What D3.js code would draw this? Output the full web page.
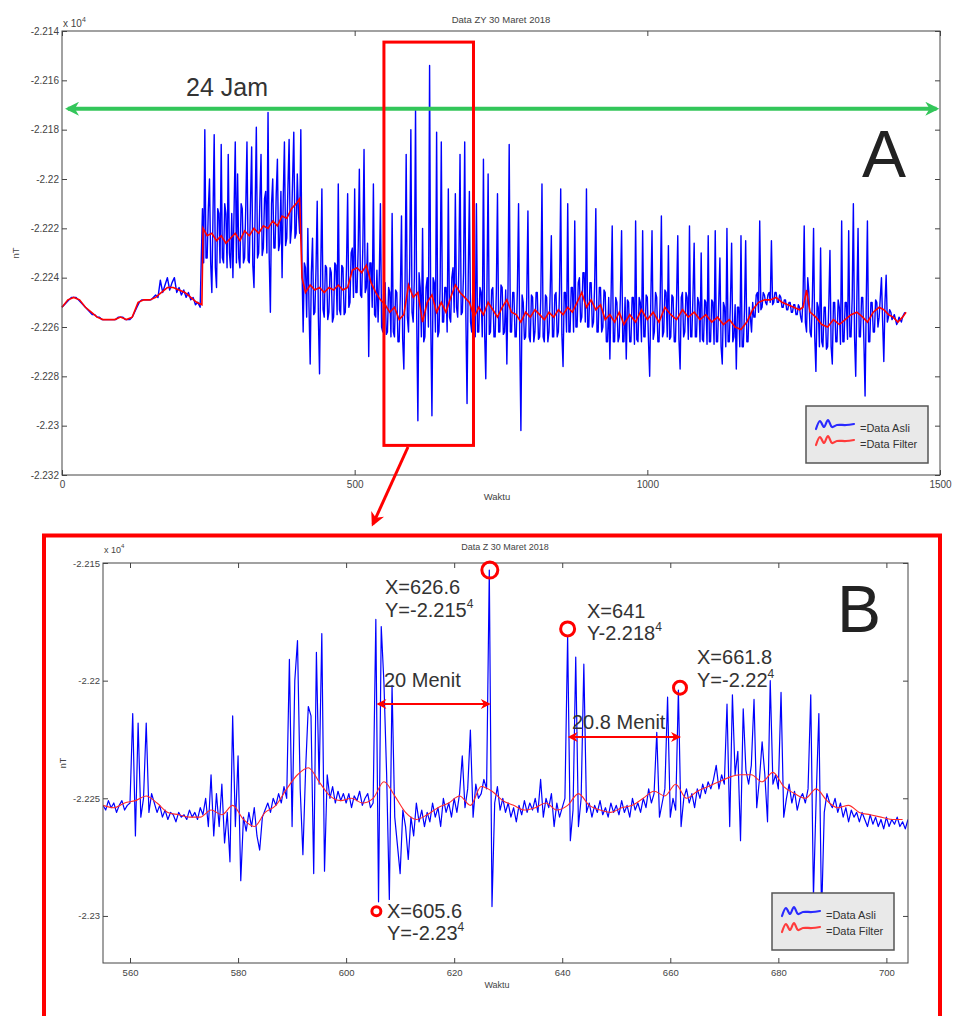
<!DOCTYPE html>
<html>
<head>
<meta charset="utf-8">
<script src="https://cdn.jsdelivr.net/npm/d3@7"></script>
<style>
body { margin: 0; background: #fff; }
svg { display: block; font-family: "Liberation Sans", Arial, sans-serif; }
</style>
</head>
<body>
<div id="chart"></div>
<script>
// ---- data panel A ----
// quiet part: one value every 4 minutes from minute 0
var langkahHalusA = 4;
var asliHalusA = [
  -22252,-22251,-22250,-22249,-22248,-22248,-22248,-22249,-22250,-22251,-22252,-22253,-22254,-22255,-22255,
  -22256,-22256,-22257,-22257,-22257,-22257,-22257,-22257,-22257,-22256,-22256,-22256,-22257,-22257,-22257,
  -22256,-22254,-22252,-22250,-22249,-22249,-22249,-22249,-22249,-22248,-22247,-22248,-22241,-22246,-22243,
  -22240,-22245,-22242,-22240,-22246,-22244,-22247,-22245,-22248,-22246,-22249,-22248,-22251,-22250,-22252
];
// noisy part: one value every 2 minutes from minute 240
var awalBisingA = 240, langkahBisingA = 2;
var asliBisingA = [
  -22212,-22234,-22180,-22232,-22232,-22212,-22200,-22234,-22246,-22214,-22182,-22236,-22244,-22212,-22214,-22234,-22186,-22232,-22234,-22210,-22214,-22236,-22190,-22230,-22236,-22214,-22240,-22212,-22185,-22234,
  -22198,-22232,-22236,-22210,-22212,-22234,-22232,-22211,-22185,-22233,-22234,-22210,-22187,-22235,-22244,-22212,-22179,-22232,-22230,-22209,-22190,-22231,-22228,-22208,-22205,-22230,-22173,-22232,-22254,-22210,
  -22200,-22228,-22228,-22206,-22192,-22229,-22226,-22205,-22240,-22207,-22185,-22227,-22224,-22203,-22184,-22226,-22220,-22200,-22181,-22224,-22222,-22198,-22214,-22222,-22180,-22236,-22262,-22234,-22236,-22256,
  -22220,-22252,-22275,-22238,-22224,-22255,-22254,-22236,-22209,-22256,-22279,-22237,-22204,-22253,-22256,-22235,-22236,-22257,-22254,-22236,-22238,-22258,-22256,-22234,-22235,-22255,-22202,-22253,-22255,-22235,
  -22236,-22255,-22254,-22236,-22206,-22252,-22250,-22230,-22228,-22248,-22204,-22246,-22246,-22228,-22196,-22247,-22248,-22227,-22188,-22246,-22244,-22226,-22272,-22234,-22234,-22252,-22202,-22255,-22256,-22237,
  -22258,-22240,-22210,-22260,-22262,-22242,-22242,-22263,-22262,-22244,-22246,-22264,-22214,-22262,-22264,-22245,-22246,-22266,-22266,-22247,-22215,-22265,-22277,-22244,-22190,-22256,-22262,-22236,-22180,-22254,
  -22258,-22240,-22172,-22256,-22298,-22238,-22244,-22264,-22220,-22266,-22264,-22244,-22240,-22260,-22154,-22258,-22296,-22240,-22242,-22262,-22181,-22264,-22262,-22244,-22185,-22258,-22258,-22244,-22244,-22262,
  -22204,-22256,-22258,-22240,-22236,-22254,-22206,-22252,-22256,-22236,-22190,-22255,-22254,-22238,-22185,-22256,-22291,-22240,-22205,-22258,-22262,-22242,-22244,-22264,-22210,-22262,-22262,-22244,-22246,-22264,
  -22192,-22262,-22281,-22244,-22198,-22263,-22262,-22245,-22244,-22264,-22264,-22246,-22206,-22262,-22262,-22243,-22244,-22263,-22262,-22245,-22275,-22244,-22186,-22262,-22262,-22246,-22246,-22264,-22264,-22245,
  -22210,-22264,-22302,-22247,-22250,-22265,-22264,-22248,-22213,-22264,-22266,-22247,-22248,-22266,-22262,-22246,-22246,-22265,-22264,-22248,-22202,-22264,-22266,-22247,-22248,-22266,-22262,-22246,-22223,-22264,
  -22264,-22247,-22246,-22264,-22262,-22245,-22204,-22263,-22276,-22246,-22246,-22262,-22210,-22262,-22262,-22244,-22244,-22262,-22217,-22260,-22260,-22242,-22240,-22258,-22256,-22238,-22238,-22258,-22204,-22260,
  -22260,-22242,-22242,-22260,-22258,-22243,-22212,-22262,-22262,-22244,-22244,-22262,-22260,-22245,-22246,-22266,-22266,-22248,-22273,-22248,-22219,-22266,-22266,-22248,-22250,-22266,-22264,-22247,-22221,-22266,
  -22266,-22248,-22273,-22249,-22250,-22266,-22266,-22248,-22248,-22267,-22217,-22265,-22266,-22248,-22250,-22266,-22221,-22264,-22264,-22247,-22248,-22266,-22280,-22248,-22221,-22265,-22262,-22246,-22248,-22266,
  -22266,-22248,-22215,-22264,-22262,-22245,-22246,-22264,-22227,-22265,-22264,-22247,-22248,-22266,-22266,-22248,-22223,-22265,-22277,-22248,-22246,-22264,-22262,-22246,-22248,-22265,-22219,-22264,-22264,-22247,
  -22226,-22264,-22264,-22248,-22250,-22266,-22230,-22265,-22266,-22249,-22250,-22267,-22223,-22266,-22266,-22249,-22250,-22267,-22221,-22266,-22266,-22250,-22232,-22268,-22275,-22250,-22252,-22268,-22220,-22266,
  -22266,-22250,-22226,-22266,-22264,-22251,-22277,-22252,-22252,-22268,-22223,-22268,-22268,-22253,-22225,-22266,-22266,-22252,-22256,-22262,-22250,-22256,-22256,-22247,-22246,-22254,-22217,-22253,-22252,-22246,
  -22247,-22250,-22251,-22247,-22246,-22250,-22225,-22251,-22250,-22246,-22246,-22250,-22250,-22247,-22248,-22252,-22252,-22249,-22249,-22253,-22253,-22250,-22250,-22254,-22254,-22251,-22251,-22255,-22255,-22251,
  -22252,-22256,-22258,-22248,-22219,-22258,-22262,-22240,-22246,-22262,-22264,-22248,-22220,-22264,-22278,-22250,-22252,-22268,-22228,-22266,-22268,-22252,-22252,-22269,-22268,-22251,-22229,-22268,-22275,-22250,
  -22250,-22266,-22266,-22249,-22252,-22267,-22217,-22266,-22266,-22250,-22250,-22265,-22221,-22264,-22264,-22248,-22210,-22264,-22280,-22248,-22220,-22264,-22264,-22248,-22248,-22266,-22288,-22250,-22217,-22266,
  -22266,-22250,-22250,-22262,-22262,-22249,-22250,-22260,-22256,-22248,-22240,-22258,-22274,-22250,-22239,-22258,-22256,-22253,-22254,-22257,-22256,-22255,-22257,-22259,-22258,-22256,-22257,-22258,-22256,-22255,
  -22254
];
// filtered line A: [minute, nT]
var filterA = [
  [0,-22252],[10,-22249],[20,-22248],[30,-22249],[40,-22252],[50,-22254],[60,-22256],[70,-22257],[80,-22257],
  [90,-22257],[100,-22256],[110,-22257],[120,-22256],[130,-22250],[140,-22249],[150,-22249],[160,-22248],
  [170,-22246],[180,-22244],[190,-22244],[200,-22245],[210,-22246],[220,-22248],[230,-22250],[239,-22251],
  [241,-22220],[248,-22223],[256,-22222],[264,-22225],[272,-22223],[280,-22226],[288,-22224],[296,-22222],
  [304,-22225],[312,-22221],[320,-22223],[328,-22220],[336,-22222],[344,-22219],[352,-22220],[360,-22217],
  [368,-22219],[376,-22215],[384,-22216],[392,-22212],[400,-22210],[406,-22208],
  [410,-22240],[416,-22246],[424,-22243],[432,-22245],[440,-22244],[448,-22246],[456,-22244],[464,-22245],
  [472,-22243],[480,-22245],[488,-22244],[496,-22237],[504,-22236],[512,-22238],[520,-22235],[528,-22242],
  [536,-22246],[544,-22249],[552,-22251],[560,-22254],[568,-22252],[576,-22257],[584,-22255],[592,-22243],
  [600,-22248],[608,-22246],[616,-22258],[624,-22250],[632,-22247],[640,-22254],[648,-22250],[656,-22254],
  [664,-22248],[672,-22243],[680,-22246],[688,-22248],[696,-22250],[704,-22256],[712,-22252],[720,-22255],
  [728,-22250],[736,-22253],[744,-22256],[752,-22252],[760,-22249],[768,-22254],[776,-22255],[784,-22258],
  [792,-22254],[800,-22256],[808,-22253],[816,-22255],[824,-22257],[832,-22254],[840,-22256],[848,-22253],
  [856,-22255],[864,-22252],[872,-22254],[880,-22250],[888,-22246],[896,-22252],[904,-22249],[912,-22253],
  [920,-22251],[928,-22257],[936,-22255],[944,-22258],[952,-22254],[960,-22259],[970,-22255],[980,-22258],
  [990,-22253],[1000,-22257],[1010,-22254],[1020,-22258],[1030,-22252],[1040,-22255],[1050,-22257],
  [1060,-22253],[1070,-22256],[1080,-22254],[1090,-22257],[1100,-22255],[1110,-22258],[1120,-22256],
  [1130,-22259],[1140,-22257],[1150,-22260],[1160,-22261],[1170,-22258],[1180,-22253],[1190,-22250],
  [1200,-22249],[1210,-22249],[1220,-22248],[1230,-22250],[1240,-22251],[1250,-22252],[1260,-22253],
  [1266,-22252],[1272,-22245],[1278,-22254],[1288,-22256],[1298,-22259],[1308,-22260],[1318,-22257],
  [1328,-22259],[1338,-22257],[1348,-22255],[1358,-22254],[1368,-22256],[1376,-22258],[1386,-22254],
  [1396,-22252],[1404,-22253],[1412,-22255],[1420,-22256],[1428,-22258],[1436,-22256],[1442,-22254]
];
var ticksAX = [0, 500, 1000, 1500];
var ticksAY = [-22140,-22160,-22180,-22200,-22220,-22240,-22260,-22280,-22300,-22320];

// ---- data panel B (nT, one value every 0.5 minute from 555) ----
var awalB = 555, langkahB = 0.5;
var asliB = [
  -22253,-22255,-22251,-22254,-22252,-22256,-22253,-22251,-22255,-22253,
  -22252,-22214,-22266,-22218,-22258,-22250,-22218,-22256,-22248,-22252,
  -22256,-22253,-22258,-22255,-22259,-22256,-22257,-22260,-22256,-22258,
  -22257,-22259,-22255,-22258,-22256,-22259,-22254,-22257,-22250,-22262,
  -22240,-22266,-22248,-22262,-22244,-22269,-22256,-22277,-22215,-22262,
  -22232,-22285,-22258,-22264,-22256,-22262,-22254,-22266,-22272,-22258,
  -22255,-22252,-22256,-22250,-22253,-22248,-22252,-22245,-22250,-22191,
  -22262,-22200,-22183,-22246,-22274,-22238,-22211,-22215,-22282,-22188,
  -22244,-22180,-22281,-22240,-22250,-22245,-22252,-22247,-22251,-22248,
  -22252,-22248,-22254,-22249,-22251,-22247,-22253,-22250,-22248,-22254,
  -22252,-22174,-22294,-22177,-22201,-22240,-22293,-22202,-22258,-22270,
  -22282,-22255,-22262,-22276,-22258,-22266,-22252,-22260,-22255,-22262,
  -22256,-22260,-22252,-22258,-22254,-22262,-22250,-22256,-22252,-22258,
  -22250,-22256,-22248,-22232,-22254,-22246,-22221,-22258,-22244,-22250,
  -22248,-22242,-22246,-22153,-22296,-22252,-22245,-22255,-22250,-22256,
  -22252,-22258,-22254,-22260,-22253,-22257,-22251,-22256,-22252,-22255,
  -22250,-22256,-22242,-22258,-22250,-22254,-22248,-22262,-22252,-22258,
  -22254,-22250,-22181,-22268,-22255,-22190,-22262,-22250,-22193,-22256,
  -22252,-22258,-22253,-22256,-22251,-22257,-22254,-22258,-22252,-22256,
  -22253,-22257,-22251,-22256,-22253,-22258,-22250,-22255,-22252,-22256,
  -22250,-22254,-22246,-22252,-22248,-22222,-22258,-22252,-22246,-22207,
  -22258,-22250,-22255,-22204,-22262,-22250,-22246,-22252,-22248,-22254,
  -22246,-22250,-22244,-22248,-22243,-22246,-22242,-22236,-22246,-22240,
  -22244,-22210,-22262,-22206,-22240,-22230,-22268,-22212,-22238,-22244,
  -22236,-22208,-22254,-22242,-22226,-22240,-22260,-22200,-22244,-22240,
  -22246,-22205,-22258,-22250,-22244,-22252,-22247,-22255,-22250,-22248,
  -22252,-22246,-22206,-22292,-22250,-22214,-22300,-22256,-22248,-22252,
  -22254,-22250,-22256,-22252,-22258,-22254,-22260,-22255,-22258,-22256,
  -22260,-22256,-22259,-22262,-22257,-22261,-22258,-22262,-22259,-22263,
  -22258,-22262,-22259,-22261,-22258,-22262,-22260,-22263,-22259
];
// filtered line B, one value every 2 minutes from 555
var langkahFilterB = 2;
var filterB = [
  -22253,-22254,-22252,-22251,-22249,-22252,-22256,-22257,-22258,-22258,-22255,-22257,-22253,-22259,-22262,
  -22256,-22253,-22246,-22240,-22237,-22243,-22249,-22251,-22250,-22252,-22250,-22243,-22249,-22256,-22259,
  -22257,-22254,-22252,-22249,-22253,-22245,-22247,-22251,-22253,-22255,-22254,-22252,-22255,-22253,-22248,
  -22253,-22255,-22256,-22254,-22253,-22250,-22247,-22249,-22244,-22250,-22247,-22245,-22243,-22241,-22240,
  -22240,-22243,-22239,-22245,-22248,-22250,-22246,-22251,-22254,-22253,-22256,-22257,-22258,-22259,-22259
];
var ticksBX = [560, 580, 600, 620, 640, 660, 680, 700];
var ticksBY = [-22150, -22200, -22250, -22300];

// marked points and intervals in B
var titikB = [
  { waktu: 605.6, nilai: -22298, teksX: "X=605.6", teksY: "Y=-2.23" },
  { waktu: 626.6, nilai: -22153, teksX: "X=626.6", teksY: "Y=-2.215" },
  { waktu: 641,   nilai: -22178, teksX: "X=641",   teksY: "Y-2.218" },
  { waktu: 661.8, nilai: -22203, teksX: "X=661.8", teksY: "Y=-2.22" }
];
var selangB = [
  { dari: 605.6, ke: 626.6, teks: "20 Menit" },
  { dari: 641,   ke: 661.8, teks: "20.8 Menit" }
];

// layout of the labels (pixels)
var posTitik = [
  { r: 4.5, tx: 387, ty1: 918, ty2: 940 },
  { r: 8,   tx: 385, ty1: 594, ty2: 617 },
  { r: 7,   tx: 587, ty1: 618, ty2: 640 },
  { r: 6.5, tx: 697, ty1: 664, ty2: 687 }
];
var posSelang = [
  { y: 704, tx: 384, ty: 687 },
  { y: 737, tx: 572, ty: 729 }
];

var fmt = function(d) { return String(+(d / 1e4).toFixed(4)); };

var svg = d3.select("#chart").append("svg")
    .attr("width", 956)
    .attr("height", 1016);

svg.append("rect").attr("width", 956).attr("height", 1016).attr("fill", "#fff");

var defs = svg.append("defs");
function marker(id, color, w, h) {
    defs.append("marker")
        .attr("id", id)
        .attr("viewBox", "0 0 10 10")
        .attr("refX", 8).attr("refY", 5)
        .attr("markerUnits", "userSpaceOnUse")
        .attr("markerWidth", w).attr("markerHeight", h)
        .attr("orient", "auto-start-reverse")
        .append("path")
        .attr("d", "M0,0L10,5L0,10L3,5Z")
        .attr("fill", color);
}
marker("hijau", "#33c65a", 16, 14);
marker("merah", "#ff0000", 16, 14);
marker("merahKecil", "#ff0000", 11, 10);

function drawAxes(x, y, xt, yt, fs) {
    var L = x.range()[0], R = x.range()[1], B = y.range()[0], T = y.range()[1];
    var g = svg.append("g").attr("class", "axes");
    var clean = function(sel) {
        sel.select(".domain").remove();
        sel.selectAll(".tick line").attr("stroke", "#444");
        sel.selectAll(".tick text").attr("fill", "#444").style("font-size", fs + "px")
            .style("font-family", "'Liberation Sans', Arial, sans-serif");
    };
    g.append("g").attr("transform", "translate(0," + B + ")")
        .call(d3.axisBottom(x).tickValues(xt).tickSize(-5).tickPadding(6).tickFormat(d3.format("d")))
        .call(clean);
    g.append("g").attr("transform", "translate(0," + T + ")")
        .call(d3.axisTop(x).tickValues(xt).tickSize(-5).tickFormat(""))
        .call(clean);
    g.append("g").attr("transform", "translate(" + L + ",0)")
        .call(d3.axisLeft(y).tickValues(yt).tickSize(-5).tickPadding(3).tickFormat(fmt))
        .call(clean);
    g.append("g").attr("transform", "translate(" + R + ",0)")
        .call(d3.axisRight(y).tickValues(yt).tickSize(-5).tickFormat(""))
        .call(clean);
    g.append("rect")
        .attr("x", L).attr("y", T)
        .attr("width", R - L).attr("height", B - T)
        .attr("fill", "none").attr("stroke", "#444").attr("stroke-width", 1);
}

function exponent(x0, y0, fs) {
    var t = svg.append("text").attr("x", x0).attr("y", y0)
        .attr("fill", "#444").style("font-size", fs + "px");
    t.append("tspan").text("x 10");
    t.append("tspan").attr("dy", -5).style("font-size", (fs - 3) + "px").text("4");
}

function legend(x0, y0) {
    var g = svg.append("g").attr("transform", "translate(" + x0 + "," + y0 + ")");
    g.append("rect").attr("width", 122).attr("height", 57)
        .attr("fill", "#e9e9e9").attr("stroke", "#555").attr("stroke-width", 1.5);
    var squiggle = d3.line().curve(d3.curveCatmullRom);
    var pts = [[0, 10], [4, 2], [8, 8], [12, 1], [16, 8], [21, 6], [30, 6], [38, 5]];
    [["#2a2aff", "=Data Asli"], ["#ff3b3b", "=Data Filter"]].forEach(function(e, i) {
        g.append("path")
            .attr("transform", "translate(10," + (13 + i * 16) + ")")
            .attr("d", squiggle(pts))
            .attr("fill", "none").attr("stroke", e[0]).attr("stroke-width", 2.2)
            .attr("stroke-linecap", "round");
        g.append("text").attr("x", 54).attr("y", 26 + i * 16)
            .attr("fill", "#333").style("font-size", "11px").text(e[1]);
    });
}

// ================= panel A =================
var xA = d3.scaleLinear().domain([0, 1500]).range([62, 940]);
var yA = d3.scaleLinear().domain([-22320, -22140]).range([475, 31]);

var titikAsliA = asliHalusA.map(function(v, i) { return [i * langkahHalusA, v]; })
    .concat(asliBisingA.map(function(v, i) { return [awalBisingA + i * langkahBisingA, v]; }));

svg.append("path")
    .datum(titikAsliA)
    .attr("d", d3.line().x(function(d) { return xA(d[0]); }).y(function(d) { return yA(d[1]); }))
    .attr("fill", "none").attr("stroke", "#0000ff").attr("stroke-width", 1.4).attr("stroke-linejoin", "round");
svg.append("path")
    .datum(filterA)
    .attr("d", d3.line().x(function(d) { return xA(d[0]); }).y(function(d) { return yA(d[1]); }))
    .attr("fill", "none").attr("stroke", "#ff0000").attr("stroke-width", 1.6);

drawAxes(xA, yA, ticksAX, ticksAY, 10);
exponent(63, 27, 10);
svg.append("text").attr("x", 501).attr("y", 23).attr("text-anchor", "middle")
    .attr("fill", "#444").style("font-size", "9.5px").text("Data ZY 30 Maret 2018");
svg.append("text").attr("transform", "translate(19,253) rotate(-90)").attr("text-anchor", "middle")
    .attr("fill", "#444").style("font-size", "9.5px").text("nT");
svg.append("text").attr("x", 497).attr("y", 500).attr("text-anchor", "middle")
    .attr("fill", "#444").style("font-size", "9.5px").text("Waktu");

legend(806, 406);

// 24 hour arrow
svg.append("line")
    .attr("x1", xA(10)).attr("x2", xA(1494))
    .attr("y1", yA(-22171.5)).attr("y2", yA(-22171.5))
    .attr("stroke", "#33c65a").attr("stroke-width", 4)
    .attr("marker-start", "url(#hijau)").attr("marker-end", "url(#hijau)");
svg.append("text").attr("x", 186).attr("y", 96)
    .attr("fill", "#333").style("font-size", "25px").text("24 Jam");
svg.append("text").attr("x", 862).attr("y", 177)
    .attr("fill", "#222").style("font-size", "66px").text("A");

// zoom window and pointer
svg.append("rect")
    .attr("x", xA(550)).attr("y", yA(-22144.5))
    .attr("width", xA(703) - xA(550)).attr("height", yA(-22308) - yA(-22144.5))
    .attr("fill", "none").attr("stroke", "#ff0000").attr("stroke-width", 3);
svg.append("line")
    .attr("x1", 408).attr("y1", 447).attr("x2", 373).attr("y2", 524)
    .attr("stroke", "#ff0000").attr("stroke-width", 3)
    .attr("marker-end", "url(#merah)");

// ================= panel B =================
svg.append("rect")
    .attr("x", 44).attr("y", 535.5).attr("width", 896).attr("height", 500)
    .attr("fill", "none").attr("stroke", "#ff0000").attr("stroke-width", 4);

var xB = d3.scaleLinear().domain([555, 704]).range([103, 908]);
var yB = d3.scaleLinear().domain([-22320, -22150]).range([963, 563]);

svg.append("clipPath").attr("id", "klipB").append("rect")
    .attr("x", 103).attr("y", 563).attr("width", 805).attr("height", 400);

svg.append("path")
    .datum(asliB)
    .attr("clip-path", "url(#klipB)")
    .attr("d", d3.line().x(function(d, i) { return xB(awalB + i * langkahB); }).y(function(d) { return yB(d); }))
    .attr("fill", "none").attr("stroke", "#0000ff").attr("stroke-width", 1.2).attr("stroke-linejoin", "round");
svg.append("path")
    .datum(filterB)
    .attr("clip-path", "url(#klipB)")
    .attr("d", d3.line().curve(d3.curveMonotoneX)
        .x(function(d, i) { return xB(awalB + i * langkahFilterB); }).y(function(d) { return yB(d); }))
    .attr("fill", "none").attr("stroke", "#ff2a2a").attr("stroke-width", 1.1);

drawAxes(xB, yB, ticksBX, ticksBY, 9.5);
exponent(104, 553, 9);
svg.append("text").attr("x", 505).attr("y", 550).attr("text-anchor", "middle")
    .attr("fill", "#444").style("font-size", "9px").text("Data Z 30 Maret 2018");
svg.append("text").attr("transform", "translate(66,763) rotate(-90)").attr("text-anchor", "middle")
    .attr("fill", "#444").style("font-size", "9px").text("nT");
svg.append("text").attr("x", 497).attr("y", 988).attr("text-anchor", "middle")
    .attr("fill", "#444").style("font-size", "9px").text("Waktu");

legend(772, 893);

svg.append("text").attr("x", 837).attr("y", 632)
    .attr("fill", "#222").style("font-size", "66px").text("B");

// marked peaks
titikB.forEach(function(p, i) {
    var l = posTitik[i];
    svg.append("circle")
        .attr("cx", xB(p.waktu)).attr("cy", yB(p.nilai)).attr("r", l.r)
        .attr("fill", "none").attr("stroke", "#ff0000").attr("stroke-width", 3);
    svg.append("text").attr("x", l.tx).attr("y", l.ty1)
        .attr("fill", "#333").style("font-size", "20px").text(p.teksX);
    var t = svg.append("text").attr("x", l.tx).attr("y", l.ty2)
        .attr("fill", "#333").style("font-size", "20px");
    t.append("tspan").text(p.teksY);
    t.append("tspan").attr("dy", -9).style("font-size", "12px").text("4");
});

// intervals between peaks
selangB.forEach(function(s, i) {
    var l = posSelang[i];
    svg.append("line")
        .attr("x1", xB(s.dari) + 2).attr("x2", xB(s.ke) - 1)
        .attr("y1", l.y).attr("y2", l.y)
        .attr("stroke", "#ff0000").attr("stroke-width", 2)
        .attr("marker-start", "url(#merahKecil)").attr("marker-end", "url(#merahKecil)");
    svg.append("text").attr("x", l.tx).attr("y", l.ty)
        .attr("fill", "#333").style("font-size", "20px").text(s.teks);
});
</script>
</body>
</html>
